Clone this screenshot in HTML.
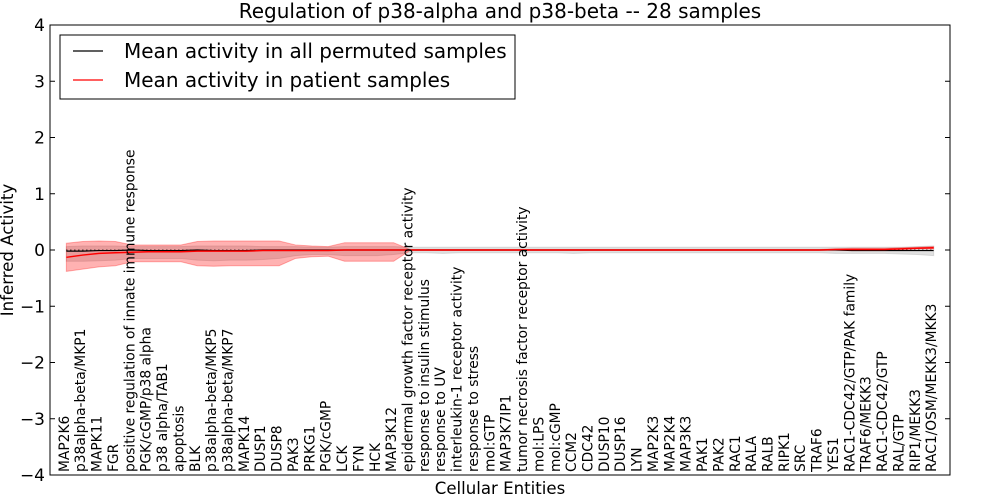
<!DOCTYPE html>
<html><head><meta charset="utf-8"><style>
html,body{margin:0;padding:0;background:#fff;}
svg{display:block;font-family:"DejaVu Sans","Liberation Sans",sans-serif;}
</style></head><body>
<svg id="chart" width="1000" height="500" viewBox="0 0 1000 500">
<rect x="0" y="0" width="1000" height="500" fill="#fff"/>
<text x="500" y="18" text-anchor="middle" font-size="20">Regulation of p38-alpha and p38-beta -- 28 samples</text>
<g id="plot"></g>
<rect x="50" y="25" width="900" height="450" fill="none" stroke="#000" stroke-width="1"/>
<g id="yaxis"></g>
<text transform="translate(13,250) rotate(-90)" text-anchor="middle" font-size="16.6">Inferred Activity</text>
<text x="500" y="494" text-anchor="middle" font-size="16.6">Cellular Entities</text>
<g>
<rect x="60" y="35" width="455" height="64" fill="#fff" stroke="#000" stroke-width="1"/>
<line x1="73" y1="51" x2="103" y2="51" stroke="#000" stroke-width="1.2"/>
<text x="124" y="58" font-size="20">Mean activity in all permuted samples</text>
<line x1="73" y1="80" x2="103" y2="80" stroke="#f00" stroke-width="1.2"/>
<text x="124" y="87" font-size="20">Mean activity in patient samples</text>
</g>
</svg>
<script>
const categories = ["MAP2K6","p38alpha-beta/MKP1","MAPK11","FGR","positive regulation of innate immune response","PGK/cGMP/p38 alpha","p38 alpha/TAB1","apoptosis","BLK","p38alpha-beta/MKP5","p38alpha-beta/MKP7","MAPK14","DUSP1","DUSP8","PAK3","PRKG1","PGK/cGMP","LCK","FYN","HCK","MAP3K12","epidermal growth factor receptor activity","response to insulin stimulus","response to UV","interleukin-1 receptor activity","response to stress","mol:GTP","MAP3K7IP1","tumor necrosis factor receptor activity","mol:LPS","mol:cGMP","CCM2","CDC42","DUSP10","DUSP16","LYN","MAP2K3","MAP2K4","MAP3K3","PAK1","PAK2","RAC1","RALA","RALB","RIPK1","SRC","TRAF6","YES1","RAC1-CDC42/GTP/PAK family","TRAF6/MEKK3","RAC1-CDC42/GTP","RAL/GTP","RIP1/MEKK3","RAC1/OSM/MEKK3/MKK3"];
const patientMean = [-0.13,-0.09,-0.06,-0.05,-0.04,-0.03,-0.03,-0.03,-0.02,-0.02,-0.02,-0.02,-0.01,-0.01,-0.01,-0.01,-0.01,0,0,0,0,0,0,0,0,0,0,0,0,0,0,0,0,0,0,0,0,0,0,0,0,0,0,0,0,0,0,0.01,0.01,0.01,0.01,0.02,0.03,0.04];
const patientUpper = [0.12,0.15,0.16,0.15,0.09,0.09,0.09,0.09,0.15,0.16,0.16,0.16,0.16,0.16,0.09,0.07,0.06,0.13,0.13,0.13,0.13,0.01,0.01,0.01,0.01,0.01,0.01,0.01,0.01,0.01,0.01,0.01,0.01,0.01,0.01,0.01,0.01,0.01,0.01,0.01,0.01,0.01,0.01,0.01,0.01,0.01,0.01,0.02,0.03,0.03,0.03,0.04,0.05,0.06];
const patientLower = [-0.38,-0.34,-0.3,-0.28,-0.21,-0.21,-0.21,-0.21,-0.28,-0.29,-0.28,-0.28,-0.28,-0.28,-0.15,-0.12,-0.11,-0.2,-0.2,-0.2,-0.2,-0.01,-0.01,-0.01,-0.01,-0.01,-0.01,-0.01,-0.01,-0.01,-0.01,-0.01,-0.01,-0.01,-0.01,-0.01,-0.01,-0.01,-0.01,-0.01,-0.01,-0.01,-0.01,-0.01,-0.01,-0.01,-0.01,0,0,0,0,0.01,0.02,0.02];
const permutedMean = [-0.02,-0.02,-0.01,-0.01,0.0,-0.01,-0.01,-0.01,0.0,-0.01,-0.01,-0.01,0,0,0,0,0,0,0,0,0,0,0,0,0,0,0,0,0,0,0,0,0,0,0,0,0,0,0,0,0,0,0,0,0,0,0,0,-0.01,-0.01,-0.01,-0.01,-0.01,-0.01];
const permutedUpper = [0.06,0.07,0.07,0.07,0.06,0.06,0.06,0.06,0.07,0.07,0.07,0.07,0.06,0.06,0.06,0.05,0.05,0.06,0.06,0.06,0.06,0.05,0.05,0.05,0.05,0.05,0.05,0.05,0.05,0.05,0.05,0.05,0.05,0.05,0.05,0.05,0.05,0.05,0.05,0.05,0.05,0.05,0.05,0.05,0.05,0.05,0.05,0.05,0.05,0.05,0.05,0.05,0.06,0.07];
const permutedLower = [-0.2,-0.2,-0.19,-0.18,-0.15,-0.15,-0.15,-0.15,-0.18,-0.19,-0.18,-0.18,-0.17,-0.15,-0.1,-0.08,-0.08,-0.1,-0.1,-0.1,-0.08,-0.05,-0.05,-0.06,-0.05,-0.05,-0.05,-0.05,-0.05,-0.05,-0.05,-0.06,-0.05,-0.05,-0.05,-0.05,-0.05,-0.05,-0.05,-0.05,-0.05,-0.05,-0.05,-0.05,-0.05,-0.05,-0.05,-0.06,-0.06,-0.06,-0.06,-0.07,-0.08,-0.1];
const yTicks = [-4,-3,-2,-1,0,1,2,3,4];

const NS = "http://www.w3.org/2000/svg";
const X0 = 50, X1 = 950, Y0 = 25, Y1 = 475;
const xMax = categories.length + 1;
function xs(i){ return X0 + (i + 1) * (X1 - X0) / xMax; }
function ys(v){ return Y1 - (v + 4) * (Y1 - Y0) / 8; }
function mk(tag, attrs){ const e = document.createElementNS(NS, tag); for (const k in attrs) e.setAttribute(k, attrs[k]); return e; }
const plot = document.getElementById('plot');
const yaxis = document.getElementById('yaxis');

function bandPath(up, lo){
  let d = "";
  up.forEach((v,i)=>{ d += (i?"L":"M") + xs(i).toFixed(2) + "," + ys(v).toFixed(2); });
  for (let i = lo.length-1; i >= 0; i--) d += "L" + xs(i).toFixed(2) + "," + ys(lo[i]).toFixed(2);
  return d + "Z";
}
function linePath(arr){
  return arr.map((v,i)=>(i?"L":"M") + xs(i).toFixed(2) + "," + ys(v).toFixed(2)).join("");
}

const gb = mk('path', {d: bandPath(permutedUpper, permutedLower), fill: '#999', 'fill-opacity': '0.3', stroke: '#bbb', 'stroke-opacity': '0.5'});


plot.appendChild(gb);

const rb = mk('path', {d: bandPath(patientUpper, patientLower), fill: '#f00', 'fill-opacity': '0.3', stroke: '#f00', 'stroke-opacity': '0.3'});


plot.appendChild(rb);

const dots = mk('line', {x1: xs(0), x2: xs(categories.length-1), y1: ys(0), y2: ys(0), stroke: '#000', 'stroke-width': '1', 'stroke-dasharray': '1,3'});


plot.appendChild(dots);

const bl = mk('path', {d: linePath(permutedMean), fill: 'none', stroke: '#000', 'stroke-width': '1.2'});


plot.appendChild(bl);

const rl = mk('path', {d: linePath(patientMean), fill: 'none', stroke: '#f00', 'stroke-width': '1.5'});


plot.appendChild(rl);

categories.forEach((c,i)=>{
  const t = mk('text', {transform: 'translate(' + (xs(i)+2.5).toFixed(2) + ',472) rotate(-90)', 'font-size': '13.8'});
  t.textContent = c;
  
  
  plot.appendChild(t);
});

yTicks.forEach(v=>{
  const y = ys(v);
  const t1 = mk('line', {x1: X0, x2: X0+5, y1: y, y2: y, stroke: '#000'});
  
  
  yaxis.appendChild(t1);
  const t2 = mk('line', {x1: X1-5, x2: X1, y1: y, y2: y, stroke: '#000'});
  
  
  yaxis.appendChild(t2);
  const lb = mk('text', {x: 45, y: y + 6, 'text-anchor': 'end', 'font-size': '17'});
  lb.textContent = v < 0 ? '\u2212' + Math.abs(v) : String(v);
  
  
  yaxis.appendChild(lb);
});
</script>
</body></html>
